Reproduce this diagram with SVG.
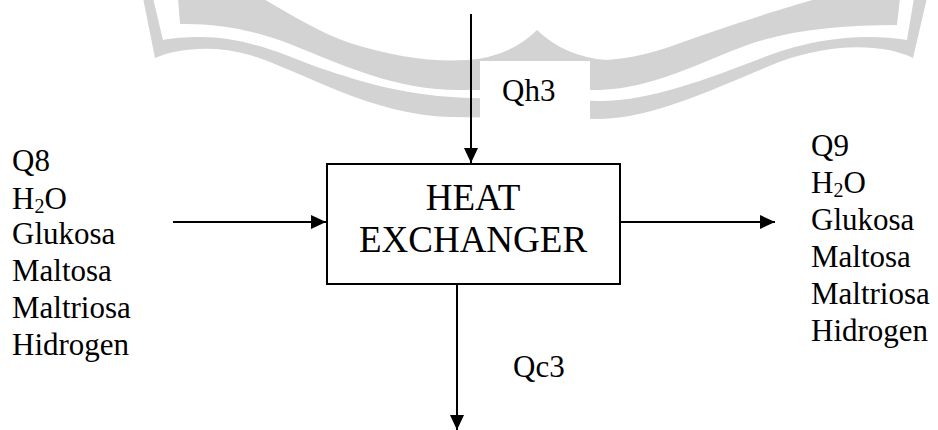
<svg xmlns="http://www.w3.org/2000/svg" width="938" height="430" viewBox="0 0 938 430">
  <style>
    text { font-family: "Liberation Serif", "DejaVu Serif", serif; fill: #000; }
    .lbl { font-size: 31px; }
    .title { font-size: 37px; text-anchor: middle; }
    .sub { font-size: 20px; }
    .wm { fill: #d3d3d3; stroke: none; }
    .conn { stroke: #000; stroke-width: 2; fill: none; marker-end: url(#arrow); }
  </style>
  <defs>
    <marker id="arrow" markerUnits="userSpaceOnUse" markerWidth="16" markerHeight="16" viewBox="0 0 16 16" refX="15" refY="8" orient="auto">
      <path d="M0,1 L15,8 L0,15 Z" fill="#000"/>
    </marker>
  </defs>
  <rect width="938" height="430" fill="#fff"/>
  <g id="watermark">
    <path class="wm" d="M178,-2 L180,24 C215,23 255,30 290,44 C345,66 395,90 460,90 L600,90 C655,88 700,62 750,44 C795,29 845,25 897,25 L900,-2 L820,-2 C790,6 740,22 700,36 C670,47 640,58 607,60 Q565,57 537,30 Q510,57 467,60 C430,62 395,57 350,43 C320,33 290,14 262,-2 Z"/>
    <path class="wm" d="M143,-2 L155,58 C178,48 215,45 250,55 C300,70 370,115 450,117 L600,119 C650,118 705,93 767,67 C815,46 875,40 913,58 L927,-2 L914,-2 L907,40 C870,34 820,36 767,56 C710,78 650,101 600,101 L470,98 C410,96 370,85 317,67 C280,53 245,37 200,37 C185,37 172,38 163,40 L153,-2 Z"/>
    <rect x="480" y="61" width="110" height="64" fill="#fff"/>
  </g>
  <g id="connectors">
    <line class="conn" x1="471" y1="14" x2="471" y2="163"/>
    <line class="conn" x1="173" y1="222" x2="326" y2="222"/>
    <line class="conn" x1="621" y1="222" x2="775" y2="222"/>
    <line class="conn" x1="457" y1="284" x2="457" y2="430"/>
  </g>
  <g id="heat-exchanger">
    <rect x="327" y="164" width="293" height="120" fill="#fff" stroke="#000" stroke-width="2"/>
    <text class="title" x="473" y="210">HEAT</text>
    <text class="title" x="473" y="252">EXCHANGER</text>
  </g>
  <g id="label-qh3">
    <text class="lbl" x="502" y="101">Qh3</text>
  </g>
  <g id="label-qc3">
    <text class="lbl" x="513" y="377">Qc3</text>
  </g>
  <g id="input-stream">
    <text class="lbl" x="12" y="171">Q8</text>
    <text class="lbl" x="12" y="209">H<tspan class="sub" dy="4">2</tspan><tspan dy="-4">O</tspan></text>
    <text class="lbl" x="12" y="244">Glukosa</text>
    <text class="lbl" x="12" y="281">Maltosa</text>
    <text class="lbl" x="12" y="318">Maltriosa</text>
    <text class="lbl" x="12" y="355">Hidrogen</text>
  </g>
  <g id="output-stream">
    <text class="lbl" x="811" y="156">Q9</text>
    <text class="lbl" x="811" y="193">H<tspan class="sub" dy="4">2</tspan><tspan dy="-4">O</tspan></text>
    <text class="lbl" x="811" y="230">Glukosa</text>
    <text class="lbl" x="811" y="267">Maltosa</text>
    <text class="lbl" x="811" y="304">Maltriosa</text>
    <text class="lbl" x="811" y="341">Hidrogen</text>
  </g>
</svg>
